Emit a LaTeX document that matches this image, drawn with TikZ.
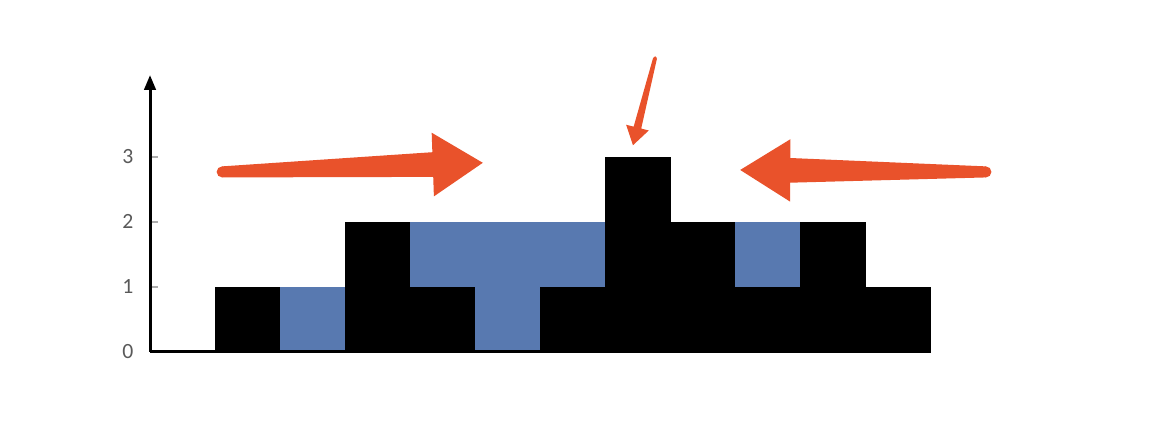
\documentclass[tikz,border=0pt]{standalone}
\usepackage{fontspec}
\usepackage{tikz}
\usetikzlibrary{calc, arrows.meta}
\newfontfamily\tickfont{Carlito}
\definecolor{Water}{HTML}{5879B0}
\definecolor{ArrowRed}{HTML}{E9522B}
\definecolor{TickGray}{HTML}{595959}
% tapered pointer: tail, tip, tail half width, neck half width, head half width, head length
\newcommand{\redArrow}[6]{%
  \coordinate (neck) at ($(#2)!#6!(#1)$);
  \fill[arrowFill] ($(#1)!#3!90:(#2)$) -- ($(neck)!#4!90:(#2)$) -- ($(neck)!#5!90:(#2)$)
    -- (#2) -- ($(neck)!#5!-90:(#2)$) -- ($(neck)!#4!-90:(#2)$) -- ($(#1)!#3!-90:(#2)$) -- cycle;
  \fill[arrowFill] (#1) circle (#3);
}

\begin{document}
\begin{tikzpicture}[
    x=1cm, y=1cm,
    axisLine/.style={line width=1.3pt, black},
    tickMark/.style={line width=0.5pt, TickGray!50},
    tickLabel/.style={text=TickGray, font=\tickfont\fontsize{9.5}{11}\selectfont, inner sep=0pt},
    barBlock/.style={fill=black, draw=black, line width=0.3pt},
    waterBlock/.style={fill=Water},
    arrowFill/.style={fill=ArrowRed},
  ]
  \useasboundingbox (-2.308,-1.108) rectangle (15.508,5.415);
  % water and bars
  \foreach \col/\h/\w in {1/1/0, 2/0/1, 3/2/0, 4/1/1, 5/0/2, 6/1/1, 7/3/0, 8/2/0, 9/1/1, 10/2/0, 11/1/0} {
    \ifnum\w>0
      \fill[waterBlock] (\col,\h) rectangle ++(1,\w);
    \fi
    \ifnum\h>0
      \filldraw[barBlock] (\col,0) rectangle ++(1,\h);
    \fi
  }
  % axes
  \coordinate (origin) at (0,0);
  \coordinate (yTop) at (0,4.26);
  \coordinate (xEnd) at (12,0);
  \foreach \y in {1,2,3} {
    \draw[tickMark] (0,\y) -- (0.12,\y);
  }
  \draw[axisLine] (xEnd) -- (origin);
  \draw[axisLine, -{Triangle[width=5pt, length=6.5pt]}] (origin) -- (yTop);
  \foreach \y in {0,1,2,3} {
    \node[tickLabel] (tick\y) at (-0.34,\y) {\y};
  }
  % pointers
  \coordinate (leftTail) at (1.11,2.77);
  \coordinate (leftTip) at (5.12,2.91);
  \coordinate (rightTail) at (12.86,2.77);
  \coordinate (rightTip) at (9.08,2.80);
  \coordinate (downTail) at (7.77,4.52);
  \coordinate (downTip) at (7.43,3.18);
  \redArrow{leftTail}{leftTip}{0.085cm}{0.19cm}{0.49cm}{0.77cm}
  \redArrow{rightTail}{rightTip}{0.085cm}{0.19cm}{0.48cm}{0.77cm}
  \redArrow{downTail}{downTip}{0.03cm}{0.06cm}{0.18cm}{0.28cm}
\end{tikzpicture}
\end{document}
